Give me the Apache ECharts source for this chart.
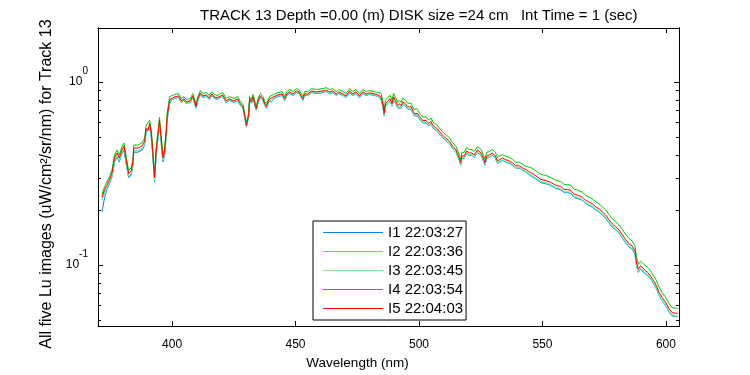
<!DOCTYPE html>
<html>
<head>
<meta charset="utf-8">
<script src="https://cdn.jsdelivr.net/npm/echarts@6/dist/echarts.min.js"></script>
<style>
  html, body { margin: 0; padding: 0; background: #fff; }
  #container { width: 750px; height: 375px; }
</style>
</head>
<body>
<div id="container"></div>
<script>
// wavelengths (nm) shared by the five Lu scans
var wavelength = [
  371.6,372.7,373.6,374.7,375.7,376.7,377.7,378.6,379.7,380.5,381.4,382.4,383.5,384.1,384.5,386.2,387.8,388.9,389.5,390.2,
  390.9,391.6,392.2,392.9,393.6,394.2,394.9,395.6,396.3,396.9,397.6,398.0,398.6,399.0,
  399.6,401.0,401.7,402.6,403.7,404.8,405.7,406.4,407.4,408.4,409.1,409.7,410.4,411.5,412.4,413.8,415.1,416.1,417.1,418.2,
  420.5,421.9,423.2,425.0,426.6,427.4,428.7,429.4,430.1,430.5,431.0,431.4,432.1,432.8,433.5,434.1,434.8,435.8,436.8,437.5,
  438.2,438.9,439.5,440.2,441.1,442.9,444.6,445.6,446.5,447.6,449.0,450.3,451.4,452.3,453.0,453.7,455.0,456.4,458.4,461.1,
  462.4,463.8,465.1,466.5,467.5,469.2,470.5,471.9,473.2,474.5,475.9,477.2,478.6,479.9,482.0,483.3,
  484.6,485.3,485.9,486.4,487.4,488.3,489.1,489.7,490.5,491.4,492.1,492.8,493.4,494.5,495.4,496.8,497.5,498.1,498.8,499.5,
  500.2,501.5,502.9,503.9,504.9,505.6,506.2,507.2,508.2,508.9,509.9,510.9,512.3,513.6,515.0,515.7,516.3,516.9,517.4,518.3,
  519.3,520.4,521.4,522.4,523.7,525.1,526.0,526.7,527.4,528.5,529.8,530.9,531.8,532.5,533.8,535.2,536.5,537.9,539.2,540.6,
  541.9,543.3,
  545.3,547.3,549.3,551.4,553.4,555.4,557.4,558.8,560.1,561.5,562.8,564.2,566.2,567.5,568.9,570.2,571.6,572.9,574.3,575.6,
  576.9,578.3,579.6,581.0,582.3,583.7,585.0,586.4,587.5,588.0,588.8,589.7,590.8,591.8,592.7,593.8,595.1,596.2,597.2,598.5,
  599.9,601.2,602.5,603.9,604.8
];

// I1 22:03:27
var lu1 = [
  0.195,0.235,0.259,0.279,0.304,0.366,0.390,0.366,0.405,0.425,0.357,0.300,0.312,0.344,0.414,0.414,0.425,0.452,0.531,0.518,
  0.564,0.499,0.390,0.286,0.405,0.481,0.586,0.586,0.366,0.390,0.499,0.616,0.697,0.760,
  0.794,0.814,0.834,0.824,0.774,0.794,0.765,0.756,0.774,0.824,0.814,0.719,0.794,0.856,0.824,0.834,0.804,0.845,0.814,0.804,
  0.834,0.774,0.794,0.774,0.794,0.756,0.719,0.643,0.568,0.555,0.643,0.794,0.765,0.814,0.747,0.702,0.774,0.824,0.794,0.747,
  0.719,0.765,0.794,0.774,0.814,0.834,0.845,0.794,0.845,0.866,0.845,0.877,0.866,0.824,0.794,0.845,0.845,0.877,0.866,0.877,
  0.888,0.866,0.877,0.845,0.866,0.845,0.824,0.877,0.845,0.866,0.824,0.866,0.845,0.856,0.845,0.834,
  0.806,0.739,0.653,0.739,0.766,0.786,0.739,0.806,0.766,0.721,0.739,0.721,0.758,0.739,0.712,0.712,0.677,0.653,0.669,0.653,
  0.629,0.598,0.598,0.576,0.592,0.563,0.576,0.542,0.522,0.529,0.491,0.479,0.462,0.434,0.413,0.407,0.373,0.351,0.383,0.383,
  0.407,0.398,0.398,0.388,0.413,0.398,0.373,0.351,0.383,0.388,0.398,0.383,0.360,0.365,0.373,0.365,0.360,0.351,0.339,0.339,
  0.330,0.322,
  0.307,0.296,0.282,0.278,0.272,0.262,0.258,0.249,0.249,0.246,0.234,0.231,0.226,0.217,0.212,0.207,0.200,0.195,0.187,0.180,
  0.170,0.161,0.156,0.150,0.141,0.132,0.126,0.122,0.114,0.101,0.0912,0.095,0.092,0.0893,0.0874,0.0835,0.0787,0.0739,0.0682,0.0638,
  0.060,0.0557,0.0528,0.0523,0.0523
];

// I2 22:03:36
var lu2 = [
  0.227,0.250,0.263,0.284,0.309,0.372,0.396,0.372,0.411,0.431,0.363,0.305,0.317,0.349,0.421,0.421,0.431,0.459,0.539,0.526,
  0.573,0.507,0.396,0.290,0.411,0.488,0.595,0.595,0.372,0.396,0.507,0.625,0.708,0.772,
  0.798,0.819,0.838,0.828,0.778,0.798,0.769,0.759,0.778,0.828,0.819,0.723,0.798,0.860,0.828,0.838,0.808,0.849,0.819,0.808,
  0.838,0.778,0.798,0.778,0.798,0.759,0.723,0.646,0.571,0.558,0.646,0.798,0.769,0.819,0.751,0.705,0.778,0.828,0.798,0.751,
  0.723,0.769,0.798,0.778,0.819,0.838,0.849,0.798,0.849,0.871,0.849,0.882,0.871,0.828,0.798,0.849,0.849,0.882,0.871,0.882,
  0.892,0.871,0.882,0.849,0.871,0.849,0.828,0.882,0.849,0.871,0.828,0.871,0.849,0.860,0.849,0.838,
  0.810,0.743,0.656,0.743,0.770,0.790,0.743,0.810,0.770,0.724,0.743,0.724,0.761,0.743,0.716,0.716,0.681,0.656,0.673,0.656,
  0.632,0.602,0.602,0.579,0.595,0.566,0.579,0.545,0.525,0.531,0.493,0.482,0.464,0.436,0.415,0.410,0.375,0.353,0.385,0.385,
  0.410,0.400,0.400,0.390,0.415,0.400,0.375,0.353,0.385,0.390,0.400,0.385,0.362,0.367,0.375,0.367,0.362,0.353,0.340,0.340,
  0.332,0.324,
  0.309,0.297,0.284,0.280,0.273,0.263,0.260,0.250,0.250,0.247,0.235,0.233,0.227,0.218,0.213,0.208,0.201,0.196,0.188,0.181,
  0.171,0.162,0.156,0.151,0.142,0.133,0.126,0.123,0.115,0.101,0.0917,0.0955,0.0926,0.0897,0.0878,0.084,0.0791,0.0743,0.0685,0.0642,
  0.0603,0.056,0.0531,0.0526,0.052
];

// I3 22:03:45
var lu3 = [
  0.228,0.251,0.265,0.285,0.310,0.373,0.398,0.373,0.413,0.434,0.365,0.307,0.318,0.351,0.423,0.423,0.434,0.462,0.542,0.529,
  0.576,0.509,0.398,0.292,0.413,0.491,0.598,0.598,0.373,0.398,0.509,0.629,0.712,0.776,
  0.802,0.823,0.842,0.833,0.782,0.802,0.773,0.763,0.782,0.833,0.823,0.727,0.802,0.864,0.833,0.842,0.812,0.853,0.823,0.812,
  0.842,0.782,0.802,0.782,0.802,0.763,0.727,0.649,0.574,0.560,0.649,0.802,0.773,0.823,0.754,0.709,0.782,0.833,0.802,0.754,
  0.727,0.773,0.802,0.782,0.823,0.842,0.853,0.802,0.853,0.875,0.853,0.886,0.875,0.833,0.802,0.853,0.853,0.886,0.875,0.886,
  0.897,0.875,0.886,0.853,0.875,0.853,0.833,0.886,0.853,0.875,0.833,0.875,0.853,0.864,0.853,0.842,
  0.814,0.747,0.660,0.747,0.774,0.794,0.747,0.814,0.774,0.728,0.747,0.728,0.765,0.747,0.719,0.719,0.684,0.660,0.676,0.660,
  0.635,0.605,0.605,0.582,0.598,0.568,0.582,0.548,0.527,0.534,0.496,0.484,0.466,0.438,0.417,0.412,0.377,0.355,0.387,0.387,
  0.412,0.402,0.402,0.392,0.417,0.402,0.377,0.355,0.387,0.392,0.402,0.387,0.364,0.368,0.377,0.368,0.364,0.355,0.342,0.342,
  0.333,0.325,
  0.312,0.300,0.287,0.283,0.276,0.266,0.262,0.253,0.253,0.250,0.238,0.235,0.229,0.220,0.215,0.211,0.203,0.198,0.190,0.183,
  0.173,0.164,0.158,0.152,0.143,0.135,0.128,0.124,0.116,0.102,0.0926,0.0965,0.0936,0.0907,0.0887,0.0848,0.080,0.0751,0.0692,0.0648,
  0.0609,0.0566,0.0536,0.0531,0.0531
];

// I4 22:03:54
var lu4 = [
  0.244,0.269,0.284,0.306,0.333,0.400,0.426,0.400,0.443,0.465,0.391,0.329,0.341,0.376,0.453,0.453,0.465,0.495,0.581,0.567,
  0.618,0.546,0.426,0.313,0.443,0.526,0.642,0.642,0.400,0.426,0.546,0.674,0.763,0.832,
  0.834,0.856,0.877,0.866,0.814,0.834,0.804,0.794,0.814,0.866,0.856,0.756,0.834,0.899,0.866,0.877,0.845,0.888,0.856,0.845,
  0.877,0.814,0.834,0.814,0.834,0.794,0.756,0.676,0.597,0.583,0.676,0.834,0.804,0.856,0.785,0.737,0.814,0.866,0.834,0.785,
  0.756,0.804,0.834,0.814,0.856,0.877,0.888,0.834,0.888,0.911,0.888,0.922,0.911,0.866,0.834,0.888,0.888,0.922,0.911,0.922,
  0.933,0.911,0.922,0.888,0.911,0.888,0.866,0.922,0.888,0.911,0.866,0.911,0.888,0.899,0.888,0.877,
  0.868,0.796,0.703,0.796,0.826,0.846,0.796,0.868,0.826,0.776,0.796,0.776,0.816,0.796,0.767,0.767,0.729,0.703,0.721,0.703,
  0.677,0.645,0.645,0.621,0.637,0.606,0.621,0.584,0.562,0.570,0.529,0.516,0.497,0.467,0.445,0.439,0.402,0.378,0.413,0.413,
  0.439,0.428,0.428,0.418,0.445,0.428,0.402,0.378,0.413,0.418,0.428,0.413,0.388,0.393,0.402,0.393,0.388,0.378,0.365,0.365,
  0.355,0.347,
  0.341,0.328,0.313,0.309,0.301,0.291,0.286,0.276,0.276,0.273,0.260,0.257,0.250,0.241,0.235,0.230,0.222,0.216,0.208,0.200,
  0.189,0.179,0.173,0.166,0.157,0.147,0.140,0.135,0.127,0.112,0.101,0.105,0.102,0.099,0.097,0.093,0.087,0.082,0.076,0.0708,
  0.0666,0.0618,0.0586,0.058,0.058
];

// I5 22:04:03
var lu5 = [
  0.235,0.259,0.273,0.294,0.320,0.385,0.410,0.385,0.426,0.447,0.376,0.316,0.328,0.362,0.436,0.436,0.447,0.476,0.559,0.545,
  0.594,0.525,0.410,0.301,0.426,0.506,0.617,0.617,0.385,0.410,0.525,0.648,0.734,0.800,
  0.810,0.831,0.851,0.841,0.790,0.810,0.781,0.771,0.790,0.841,0.831,0.734,0.810,0.873,0.841,0.851,0.820,0.862,0.831,0.820,
  0.851,0.790,0.810,0.790,0.810,0.771,0.734,0.656,0.580,0.566,0.656,0.810,0.781,0.831,0.762,0.716,0.790,0.841,0.810,0.762,
  0.734,0.781,0.810,0.790,0.831,0.851,0.862,0.810,0.862,0.884,0.862,0.895,0.884,0.841,0.810,0.862,0.862,0.895,0.884,0.895,
  0.906,0.884,0.895,0.862,0.884,0.862,0.841,0.895,0.862,0.884,0.841,0.884,0.862,0.873,0.862,0.851,
  0.831,0.762,0.673,0.762,0.790,0.810,0.762,0.831,0.790,0.743,0.762,0.743,0.781,0.762,0.734,0.734,0.698,0.673,0.690,0.673,
  0.648,0.617,0.617,0.594,0.610,0.580,0.594,0.559,0.538,0.545,0.506,0.494,0.476,0.447,0.426,0.420,0.385,0.362,0.395,0.395,
  0.420,0.410,0.410,0.400,0.426,0.410,0.385,0.362,0.395,0.400,0.410,0.395,0.371,0.376,0.385,0.376,0.371,0.362,0.349,0.349,
  0.340,0.332,
  0.320,0.308,0.294,0.290,0.283,0.273,0.269,0.259,0.259,0.256,0.244,0.241,0.235,0.226,0.221,0.216,0.208,0.203,0.195,0.188,
  0.177,0.168,0.162,0.156,0.147,0.138,0.131,0.127,0.119,0.105,0.095,0.099,0.096,0.093,0.091,0.087,0.082,0.077,0.071,0.0665,
  0.0625,0.058,0.055,0.0545,0.0545
];

var seriesNames = ['I1 22:03:27', 'I2 22:03:36', 'I3 22:03:45', 'I4 22:03:54', 'I5 22:04:03'];
var seriesColors = ['#0a7cf0', '#22dcf0', '#88ee88', '#00c800', '#ff0000'];
var xTicks = [400, 450, 500, 550, 600];
var yMajor = [0.1, 1];
var yMinor = [0.05, 0.06, 0.07, 0.08, 0.09, 0.2, 0.3, 0.4, 0.5, 0.6, 0.7, 0.8, 0.9];

var FONT = '"Liberation Sans", Arial, Helvetica, sans-serif';
var X_MIN = 370, X_MAX = 605.3;
var Y_MIN = 0.0464, Y_MAX = 1.976;

var dom = document.getElementById('container');
var myChart = echarts.init(dom, null, { renderer: 'canvas' });

var allLu = [lu1, lu2, lu3, lu4, lu5];
var series = [];
for (var s = 0; s < allLu.length; s++) {
    var pts = [];
    for (var i = 0; i < wavelength.length; i++) {
        pts.push([wavelength[i], allLu[s][i]]);
    }
    series.push({
        name: seriesNames[s],
        type: 'line',
        xAxisIndex: 0,
        yAxisIndex: 0,
        data: pts,
        showSymbol: false,
        symbol: 'none',
        lineStyle: { width: 1, color: seriesColors[s] },
        itemStyle: { color: seriesColors[s], borderColor: seriesColors[s] },
        emphasis: { disabled: true }
    });
}

function xAx(pos, labels) {
    return {
        type: 'value', position: pos, min: X_MIN, max: X_MAX,
        axisLine: { show: true, lineStyle: { color: '#000', width: 1 } },
        axisTick: { show: true, inside: true, length: 5, customValues: xTicks, lineStyle: { color: '#000' } },
        axisLabel: { show: labels, customValues: xTicks, margin: 13, color: '#000', fontSize: 12, fontFamily: FONT },
        splitLine: { show: false }
    };
}

function yAx(pos, ticks, len, labels) {
    return {
        type: 'log', logBase: 10, position: pos, min: Y_MIN, max: Y_MAX,
        axisLine: { show: true, lineStyle: { color: '#000', width: 1 } },
        axisTick: { show: true, inside: true, length: len, customValues: ticks, lineStyle: { color: '#000' } },
        axisLabel: {
            show: labels, customValues: yMajor, margin: 10, color: '#000',
            formatter: function (v) {
                return '{b|10}{s|' + Math.round(Math.log10(v)) + '}';
            },
            rich: {
                b: { fontSize: 12, fontFamily: FONT, color: '#000' },
                s: { fontSize: 10, fontFamily: FONT, color: '#000', padding: [0, 0, 22, 0] }
            }
        },
        splitLine: { show: false },
        minorTick: { show: false }
    };
}

var xMain = xAx('bottom', true);
xMain.name = 'Wavelength (nm)';
xMain.nameLocation = 'middle';
xMain.nameGap = 22;
xMain.nameTextStyle = { fontSize: 13.5, fontFamily: FONT, color: '#000', padding: [0, 62, 0, 0] };

var yMain = yAx('left', yMajor, 5, true);
yMain.name = 'All five Lu images (uW/cm\u00b2/sr/nm) for Track 13';
yMain.nameLocation = 'middle';
yMain.nameGap = 38;
yMain.nameTextStyle = { fontSize: 16, fontFamily: FONT, color: '#000', padding: [0, 14, 0, 0] };

var option = {
    backgroundColor: '#fff',
    animation: false,
    title: {
        text: 'TRACK 13 Depth =0.00 (m) DISK size =24 cm   Int Time = 1 (sec)',
        left: 195, top: 3,
        textStyle: { fontSize: 15, fontWeight: 'normal', fontFamily: FONT, color: '#000' }
    },
    grid: { left: 98, top: 28, right: 71, bottom: 44 },
    legend: {
        orient: 'vertical',
        left: 313, top: 221,
        padding: [4, 3, 4, 10],
        icon: 'rect',
        itemWidth: 60, itemHeight: 1, itemGap: 4,
        itemStyle: { borderWidth: 0 },
        borderColor: '#000', borderWidth: 1, borderRadius: 0,
        backgroundColor: '#fff',
        selectedMode: false,
        textStyle: { fontSize: 15, lineHeight: 15, fontFamily: FONT, color: '#000' },
        data: seriesNames
    },
    xAxis: [xMain, xAx('top', false)],
    yAxis: [
        yMain,
        yAx('left', yMinor, 3, false),
        yAx('right', yMajor, 5, false),
        yAx('right', yMinor, 3, false)
    ],
    series: series
};

if (option && typeof option === 'object') {
    myChart.setOption(option);
}
</script>
</body>
</html>
